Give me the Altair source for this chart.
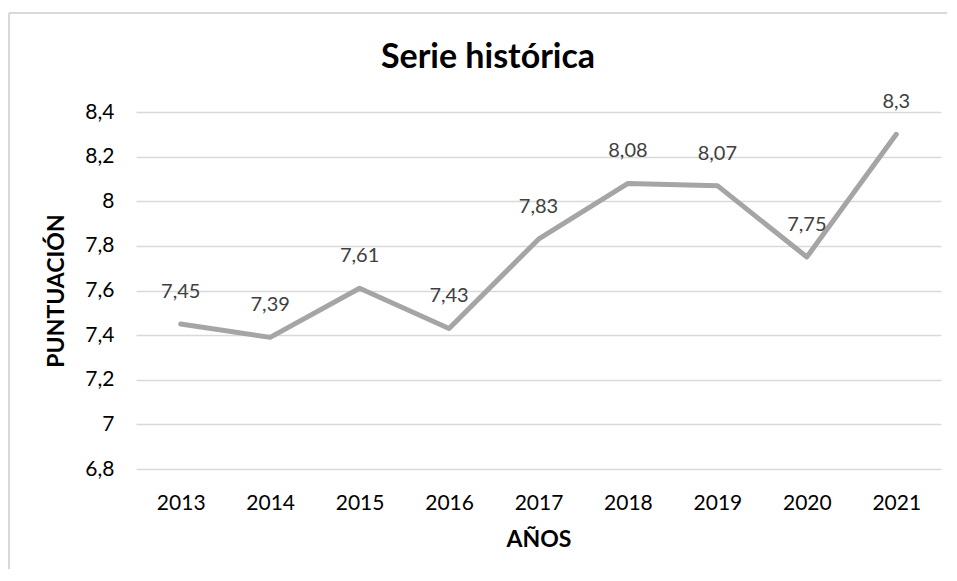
import altair as alt
import pandas as pd

title_text = "Serie histórica"
years = ["2013", "2014", "2015", "2016", "2017", "2018", "2019", "2020", "2021"]
scores = [7.45, 7.39, 7.61, 7.43, 7.83, 8.08, 8.07, 7.75, 8.3]
y_ticks = [6.8, 7.0, 7.2, 7.4, 7.6, 7.8, 8.0, 8.2, 8.4]

df = pd.DataFrame({"year": years, "score": scores})
df["label"] = [f"{v:g}".replace(".", ",") for v in scores]
df_title = pd.DataFrame({"t": [title_text]})

FONT = "Lato"
W, H = 805, 357

x_enc = alt.X("year:O", title="AÑOS",
              axis=alt.Axis(labelAngle=0, labelFont=FONT, labelFontSize=21, labelColor="#000000",
                            labelPadding=23, ticks=False, domain=False,
                            titleFont=FONT, titleFontSize=23, titleFontWeight="bold",
                            titleColor="#000000", titlePadding=15))
y_enc = alt.Y("score:Q", title="PUNTUACIÓN",
              scale=alt.Scale(domain=[6.8, 8.4], nice=False, zero=False),
              axis=alt.Axis(values=y_ticks, grid=True, gridColor="#D9D9D9", gridWidth=1.5,
                            ticks=False, domain=False,
                            labelExpr="replace(format(datum.value, '~g'), '.', ',')",
                            labelFont=FONT, labelFontSize=21, labelColor="#000000", labelPadding=22,
                            titleFont=FONT, titleFontSize=23, titleFontWeight="bold",
                            titleColor="#000000", titlePadding=16))

line = alt.Chart(df).mark_line(color="#A5A5A5", strokeWidth=5, strokeCap="round",
                               strokeJoin="round").encode(x=x_enc, y=y_enc)

labels = alt.Chart(df).mark_text(font=FONT, fontSize=20, color="#404040", baseline="middle",
                                 dy=-32).encode(x="year:O", y="score:Q", text="label:N")

border = alt.Chart(df).mark_rule(color="#D9D9D9", strokeWidth=1.5).encode(
    x=alt.value(-127), y=alt.value(-99), y2=alt.value(480))
border_top = alt.Chart(df).mark_rule(color="#D9D9D9", strokeWidth=1.5).encode(
    x=alt.value(-127), x2=alt.value(830), y=alt.value(-99))

title = alt.Chart(df_title).mark_text(font=FONT, fontSize=34, fontWeight="bold", color="#000000",
                                      align="center", baseline="alphabetic").encode(
    x=alt.value(352), y=alt.value(-44), text="t:N")

chart = alt.layer(border, border_top, line, labels, title).properties(
    width=W, height=H,
    autosize=alt.AutoSizeParams(type="none"),
    padding={"left": 128, "top": 104, "right": 6, "bottom": 100},
).configure_view(stroke=None)

chart.save("out.html", embed_options={"renderer": "svg", "actions": False})
